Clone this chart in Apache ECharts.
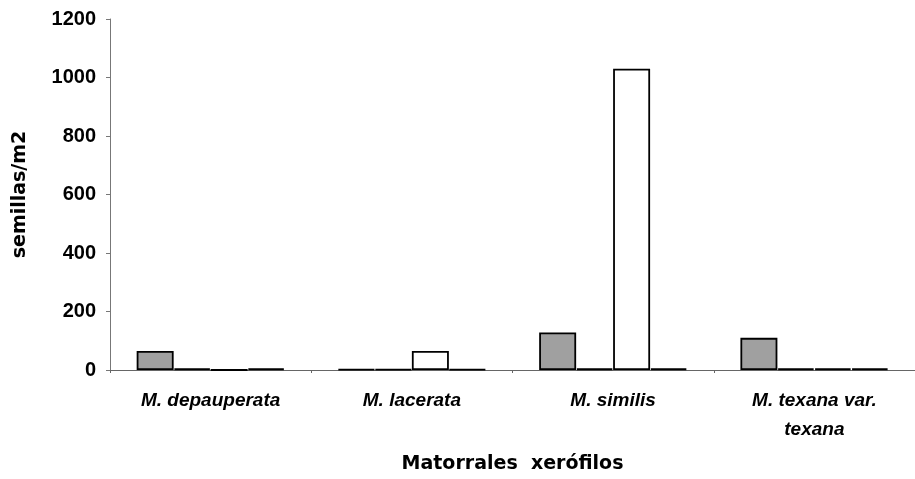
<!DOCTYPE html>
<html>
<head>
<meta charset="utf-8">
<script src="https://cdn.jsdelivr.net/npm/echarts@6/dist/echarts.min.js"></script>
<style>
  html, body { margin: 0; padding: 0; background: #fff; }
  #chart { width: 915px; height: 479px; }
</style>
</head>
<body>
<div id="chart"></div>
<script>
// Seed density per shrubland species (semillas/m2)
const categories = ['M. depauperata', 'M. lacerata', 'M. similis', 'M. texana var.\ntexana'];
const seriesGray  = [65, 3, 128, 110];
const seriesDark1 = [5, 3, 5, 5];
const seriesWhite = [0, 65, 1030, 5];
const seriesDark2 = [5, 3, 5, 5];
const yTicks = [0, 200, 400, 600, 800, 1000, 1200];

const sans = '"Liberation Sans", Arial, sans-serif';
const wide = '"DejaVu Sans", sans-serif';

function barSeries(data, fill) {
  return {
    type: 'bar',
    data: data,
    barGap: '0%',
    barCategoryGap: '26.5%',
    itemStyle: { color: fill, borderColor: '#000', borderWidth: 1.8 },
    emphasis: { disabled: true }
  };
}

const chart = echarts.init(document.getElementById('chart'));
chart.setOption({
  animation: false,
  backgroundColor: '#fff',
  // the last category runs a little past the right edge of the canvas
  grid: { left: 110, width: 817, top: 19, bottom: 106 },
  xAxis: {
    type: 'category',
    data: categories,
    name: 'Matorrales  xerófilos',
    nameLocation: 'middle',
    nameGap: 85,
    nameTextStyle: { fontFamily: wide, fontWeight: 'bold', fontSize: 19, color: '#000' },
    axisLine: { lineStyle: { color: '#666', width: 1 } },
    axisTick: { show: true, length: 3, lineStyle: { color: '#666' } },
    axisLabel: {
      interval: 0,
      margin: 16,
      fontFamily: sans, fontWeight: 'bold', fontStyle: 'italic', fontSize: 19,
      color: '#000', lineHeight: 29
    }
  },
  yAxis: {
    type: 'value',
    min: yTicks[0],
    max: yTicks[yTicks.length - 1],
    interval: yTicks[1] - yTicks[0],
    name: 'semillas/m2',
    nameLocation: 'middle',
    nameGap: 80,
    nameRotate: 90,
    nameTextStyle: { fontFamily: wide, fontWeight: 'bold', fontSize: 19, color: '#000' },
    axisLine: { show: true, lineStyle: { color: '#777', width: 1 } },
    axisTick: { show: true, length: 4, lineStyle: { color: '#777' } },
    splitLine: { show: false },
    axisLabel: {
      margin: 14,
      fontFamily: sans, fontWeight: 'bold', fontSize: 20, color: '#000',
      formatter: v => String(v)
    }
  },
  series: [
    barSeries(seriesGray, '#a0a0a0'),
    barSeries(seriesDark1, '#111'),
    barSeries(seriesWhite, '#fff'),
    barSeries(seriesDark2, '#111')
  ]
});
</script>
</body>
</html>
